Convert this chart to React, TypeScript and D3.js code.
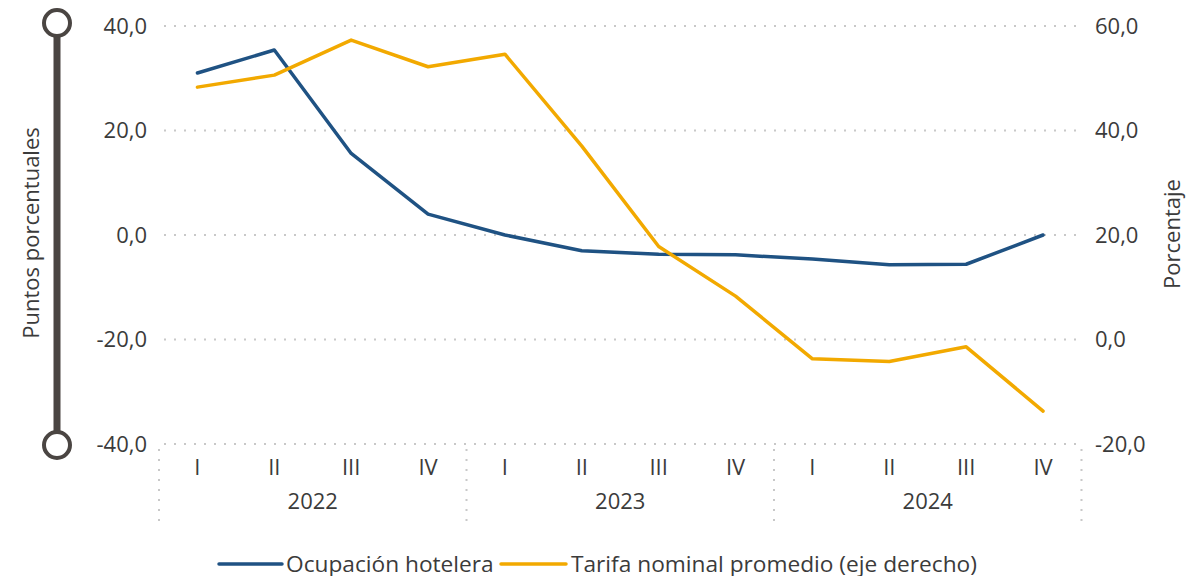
import React from "react";
import * as d3 from "d3";

const quarters = ["I", "II", "III", "IV", "I", "II", "III", "IV", "I", "II", "III", "IV"];
const years = ["2022", "2023", "2024"];
const ocupacion = [31.0, 35.4, 15.6, 4.0, 0.0, -3.0, -3.7, -3.8, -4.6, -5.7, -5.6, 0.0];
const tarifa = [48.3, 50.6, 57.3, 52.2, 54.6, 37.0, 17.8, 8.3, -3.7, -4.2, -1.4, -13.7];
const leftTicks = [-40, -20, 0, 20, 40];
const rightTicks = [-20, 0, 20, 40, 60];
const seriesNames = ["Ocupación hotelera", "Tarifa nominal promedio (eje derecho)"];

const W = 1186;
const H = 576;
const BLUE = "#1f5283";
const ORANGE = "#f2a900";
const TEXT = "#3b3b3b";
const GRID = "#c8c8c8";
const FONT = "'Open Sans', 'Noto Sans', sans-serif";
const FS = 22;

export default function App() {
  const x = d3.scaleBand<number>().domain(d3.range(quarters.length)).range([159, 1081.5]);
  const yL = d3.scaleLinear().domain([-40, 40]).range([444, 26]);
  const yR = d3.scaleLinear().domain([-20, 60]).range([444, 26]);
  const cx = (i: number) => (x(i) as number) + x.bandwidth() / 2;

  const lineL = d3.line<number>().x((_, i) => cx(i)).y((d) => yL(d));
  const lineR = d3.line<number>().x((_, i) => cx(i)).y((d) => yR(d));

  const groupW = x.bandwidth() * 4;
  const sepXs = d3.range(years.length + 1).map((k) => 159 + k * groupW);
  const fmt = (t: number) => d3.format(".1f")(t).replace(".", ",").replace("−", "-");

  return (
    <svg width={W} height={H} style={{ position: "absolute", left: 0, top: 0, display: "block" }} fontFamily={FONT}>
      <rect width={W} height={H} fill="#fff" />
      {leftTicks.map((t) => (
        <line key={"g" + t} x1={164} x2={1079} y1={yL(t)} y2={yL(t)} stroke={GRID} strokeWidth={2} strokeDasharray="2,8" />
      ))}
      {sepXs.map((sx, k) => (
        <line key={"s" + k} x1={sx} x2={sx} y1={449} y2={522} stroke={GRID} strokeWidth={2} strokeDasharray="2,8" />
      ))}
      <rect x={53.5} y={37} width={7} height={395} fill="#4a4542" />
      <circle cx={57} cy={23} r={13} fill="#fff" stroke="#4a4542" strokeWidth={4} />
      <circle cx={57} cy={445} r={13} fill="#fff" stroke="#4a4542" strokeWidth={4} />
      {leftTicks.map((t) => (
        <text key={"l" + t} x={147} y={yL(t)} dy="0.35em" textAnchor="end" fontSize={FS} fill={TEXT}>
          {fmt(t)}
        </text>
      ))}
      {rightTicks.map((t) => (
        <text key={"r" + t} x={1095} y={yR(t)} dy="0.35em" textAnchor="start" fontSize={FS} fill={TEXT}>
          {fmt(t)}
        </text>
      ))}
      <text transform={`translate(39,233) rotate(-90)`} textAnchor="middle" fontSize={FS} fill={TEXT}>
        Puntos porcentuales
      </text>
      <text transform={`translate(1180,234) rotate(-90)`} textAnchor="middle" fontSize={FS} fill={TEXT}>
        Porcentaje
      </text>
      {quarters.map((q, i) => (
        <text key={"q" + i} x={cx(i)} y={475} textAnchor="middle" fontSize={FS} fill={TEXT}>
          {q}
        </text>
      ))}
      {years.map((yr, k) => (
        <text key={"y" + yr} x={sepXs[k] + groupW / 2} y={509} textAnchor="middle" fontSize={FS} fill={TEXT}>
          {yr}
        </text>
      ))}
      <path d={lineL(ocupacion) || ""} fill="none" stroke={BLUE} strokeWidth={3.5} strokeLinejoin="round" strokeLinecap="round" />
      <path d={lineR(tarifa) || ""} fill="none" stroke={ORANGE} strokeWidth={3.5} strokeLinejoin="round" strokeLinecap="round" />
      <line x1={219} x2={282} y1={564} y2={564} stroke={BLUE} strokeWidth={3.5} strokeLinecap="round" />
      <text x={286} y={572} fontSize={22.7} fill={TEXT}>{seriesNames[0]}</text>
      <line x1={501} x2={566} y1={564} y2={564} stroke={ORANGE} strokeWidth={3.5} strokeLinecap="round" />
      <text x={571} y={572} fontSize={22.7} fill={TEXT}>{seriesNames[1]}</text>
    </svg>
  );
}
